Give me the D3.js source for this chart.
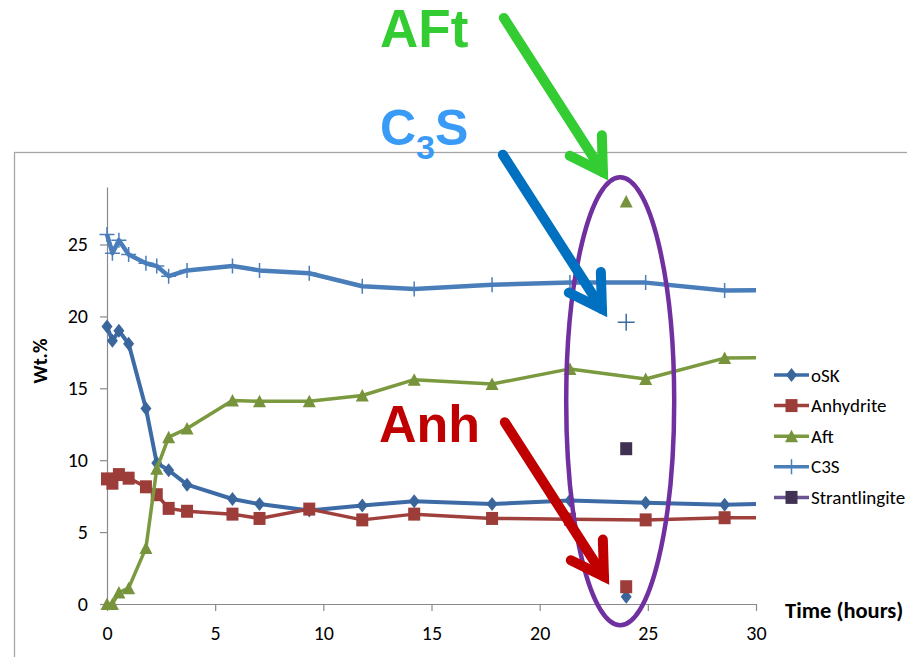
<!DOCTYPE html>
<html>
<head>
<meta charset="utf-8">
<script src="https://cdn.jsdelivr.net/npm/d3@7"></script>
<style>
  body { margin: 0; background: #fff; }
  svg { display: block; }
</style>
</head>
<body>
<script>
// ---- data (time in hours, phase content in wt.%) ----
const times      = [0, 0.25, 0.55, 1.0, 1.8, 2.3, 2.85, 3.7, 5.8, 7.05, 9.35, 11.8, 14.2, 17.8, 21.4, 24.9, 28.55, 31.5];
const oskValues  = [19.3, 18.3, 19.0, 18.1, 13.6, 9.8, 9.3, 8.3, 7.3, 6.95, 6.5, 6.85, 7.15, 6.95, 7.2, 7.05, 6.9, 7.0];
const anhValues  = [8.7, 8.4, 9.0, 8.75, 8.15, 7.6, 6.65, 6.45, 6.25, 5.95, 6.6, 5.85, 6.25, 5.95, 5.9, 5.85, 6.0, 6.0];
const aftValues  = [0, 0, 0.8, 1.1, 3.9, 9.4, 11.6, 12.2, 14.15, 14.1, 14.1, 14.5, 15.6, 15.3, 16.35, 15.65, 17.1, 17.15];
const c3sValues  = [25.7, 24.4, 25.3, 24.3, 23.7, 23.5, 22.8, 23.2, 23.5, 23.2, 23.0, 22.1, 21.9, 22.2, 22.35, 22.35, 21.8, 21.85];

// separate sample measured at 24 h
const singleTime = 24.0;
const singleOsk  = 0.5;
const singleAnh  = 1.2;
const singleAft  = 28.0;
const singleC3s  = 19.6;
const singleStr  = 10.8;

const seriesNames = ["oSK", "Anhydrite", "Aft", "C3S", "Strantlingite"];
const xTicks = [0, 5, 10, 15, 20, 25, 30];
const yTicks = [0, 5, 10, 15, 20, 25];

// ---- layout ----
const W = 907, H = 657;
const svg = d3.select("body").append("svg").attr("width", W).attr("height", H);

const x = d3.scaleLinear().domain([0, 30]).range([107, 756]);
const y = d3.scaleLinear().domain([0, 29]).range([604, 187]);

const axisColor = "#8a8a8a";
const labelFont = "Carlito, Lato, 'Open Sans', sans-serif";
const noteFont = "'Liberation Sans', Arial, sans-serif";

// outer chart frame
svg.append("rect")
  .attr("x", 14.5).attr("y", 152.5)
  .attr("width", 1000).attr("height", 600)
  .attr("fill", "none").attr("stroke", "#a6a6a6").attr("stroke-width", 1.3);

// ---- axes ----
const yAxis = svg.append("g").attr("transform", `translate(${x(0)},0)`)
  .call(d3.axisLeft(y).tickValues(yTicks).tickSize(7).tickSizeOuter(0).tickPadding(12));
const xAxis = svg.append("g").attr("transform", `translate(0,${y(0)})`)
  .call(d3.axisBottom(x).tickValues(xTicks).tickSize(7).tickSizeOuter(0).tickPadding(15));
[xAxis, yAxis].forEach(g => {
  g.selectAll("path, line").attr("stroke", axisColor).attr("stroke-width", 1.2);
  g.selectAll("text").attr("fill", "#000").attr("font-family", labelFont).attr("font-size", 20);
});

svg.append("text")
  .attr("transform", `translate(47,${y(16.9)}) rotate(-90)`)
  .attr("text-anchor", "middle")
  .attr("font-family", labelFont).attr("font-weight", "bold").attr("font-size", 20)
  .text("Wt.%");

svg.append("text")
  .attr("x", 785).attr("y", 618)
  .attr("font-family", labelFont).attr("font-weight", "bold").attr("font-size", 22.5)
  .text("Time (hours)");

// ---- marker shapes ----
const shapes = {
  diamond: () => "M0,-7L5.5,0L0,7L-5.5,0Z",
  square: () => "M-6,-6.5H6V6.5H-6Z",
  triangle: () => "M0,-6.5L6.5,6L-6.5,6Z",
  plus: s => `M${-s},0H${s}M0,${-s}V${s}`
};

const series = [
  { name: seriesNames[0], values: oskValues, line: "#3c6ba6", mark: "#3a669c", shape: "diamond", width: 4, single: singleOsk },
  { name: seriesNames[1], values: anhValues, line: "#a0403d", mark: "#9c3d3a", shape: "square", width: 3.5, single: singleAnh },
  { name: seriesNames[2], values: aftValues, line: "#7b9a3f", mark: "#77933c", shape: "triangle", width: 3.5, single: singleAft },
  { name: seriesNames[3], values: c3sValues, line: "#4a7ebb", mark: "#4a7ebb", shape: "plus", width: 4.5, single: singleC3s },
];

const clipId = "plotClip";
svg.append("clipPath").attr("id", clipId)
  .append("rect").attr("x", 0).attr("y", 0).attr("width", x(30)).attr("height", H);

const plot = svg.append("g").attr("clip-path", `url(#${clipId})`);
const lineGen = d3.line().x(d => x(d.t)).y(d => y(d.v));

function drawMarker(g, shape, color, px, py, plusSize) {
  if (shape === "plus") {
    g.append("path").attr("d", shapes.plus(plusSize || 7))
      .attr("transform", `translate(${px},${py})`)
      .attr("fill", "none").attr("stroke", color).attr("stroke-width", 1.5);
  } else {
    g.append("path").attr("d", shapes[shape]())
      .attr("transform", `translate(${px},${py})`)
      .attr("fill", color);
  }
}

series.forEach(s => {
  const pts = times.map((t, i) => ({ t, v: s.values[i] }));
  plot.append("path").datum(pts)
    .attr("d", lineGen)
    .attr("fill", "none").attr("stroke", s.line)
    .attr("stroke-width", s.width).attr("stroke-linejoin", "round");
  pts.forEach(p => drawMarker(plot, s.shape, s.mark, x(p.t), y(p.v), 7.5));
  // single 24 h measurement
  drawMarker(plot, s.shape, s.shape === "plus" ? "#3d6aa2" : s.mark, x(singleTime), y(s.single), 8.5);
});
drawMarker(plot, "square", "#403152", x(singleTime), y(singleStr));

// ---- legend ----
const legendItems = [
  { name: seriesNames[0], line: "#3c6ba6", mark: "#3a669c", shape: "diamond" },
  { name: seriesNames[1], line: "#a0403d", mark: "#9c3d3a", shape: "square" },
  { name: seriesNames[2], line: "#7b9a3f", mark: "#77933c", shape: "triangle" },
  { name: seriesNames[3], line: "#4a7ebb", mark: "#4a7ebb", shape: "plus" },
  { name: seriesNames[4], line: "#6a5393", mark: "#403152", shape: "square" },
];
const legend = svg.append("g");
legendItems.forEach((it, i) => {
  const ly = 375 + i * 30.6;
  legend.append("line").attr("x1", 774).attr("x2", 809).attr("y1", ly).attr("y2", ly)
    .attr("stroke", it.line).attr("stroke-width", 3.5);
  drawMarker(legend, it.shape, it.mark, 791.5, ly, 7.5);
  legend.append("text").attr("x", 811).attr("y", ly).attr("dy", "0.35em")
    .attr("font-family", labelFont).attr("font-size", 19).text(it.name);
});

// ---- annotations ----
const notes = svg.append("g");

// ring around the 24 h sample
notes.append("ellipse")
  .attr("cx", x(singleTime) - 6).attr("cy", y(14.1))
  .attr("rx", 54).attr("ry", 224)
  .attr("fill", "none").attr("stroke", "#7030a0").attr("stroke-width", 4.5);

function arrow(tipX, tipY, color) {
  const back = [-106, -165];
  const len = Math.hypot(back[0], back[1]);
  const u = [back[0] / len, back[1] / len];
  const half = 5, ang = 31 * Math.PI / 180, barb = 37;
  const miter = half / Math.sin(ang);
  const vx = tipX + u[0] * miter, vy = tipY + u[1] * miter;
  const rot = a => [u[0] * Math.cos(a) - u[1] * Math.sin(a), u[0] * Math.sin(a) + u[1] * Math.cos(a)];
  const b1 = rot(ang), b2 = rot(-ang);
  const g = notes.append("g").attr("fill", "none").attr("stroke", color).attr("stroke-width", 10);
  g.append("path")
    .attr("d", `M${tipX + back[0] - u[0] * 3},${tipY + back[1] - u[1] * 3}L${vx},${vy}`)
    .attr("stroke-linecap", "round");
  g.append("path")
    .attr("d", `M${vx + b1[0] * barb},${vy + b1[1] * barb}L${vx},${vy}L${vx + b2[0] * barb},${vy + b2[1] * barb}`)
    .attr("stroke-linecap", "round").attr("stroke-linejoin", "miter");
}

arrow(x(singleTime) - 18, y(singleAft) - 21, "#33cc33");
arrow(x(singleTime) - 19, y(singleC3s) - 5, "#0070c0");
arrow(x(singleTime) - 17, y(singleAnh) - 2, "#c00000");

notes.append("text").attr("x", 380).attr("y", 47)
  .attr("font-family", noteFont).attr("font-weight", "bold").attr("font-size", 53)
  .attr("fill", "#33cc33").text("AFt");

const c3sLabel = notes.append("text").attr("x", 380).attr("y", 145)
  .attr("font-family", noteFont).attr("font-weight", "bold").attr("font-size", 50)
  .attr("fill", "#3a9bf6");
c3sLabel.append("tspan").text("C");
c3sLabel.append("tspan").attr("dy", 14).attr("font-size", 34).text("3");
c3sLabel.append("tspan").attr("dy", -14).text("S");

notes.append("text").attr("x", 379).attr("y", 442)
  .attr("font-family", noteFont).attr("font-weight", "bold").attr("font-size", 52)
  .attr("fill", "#c00000").text("Anh");
</script>
</body>
</html>
